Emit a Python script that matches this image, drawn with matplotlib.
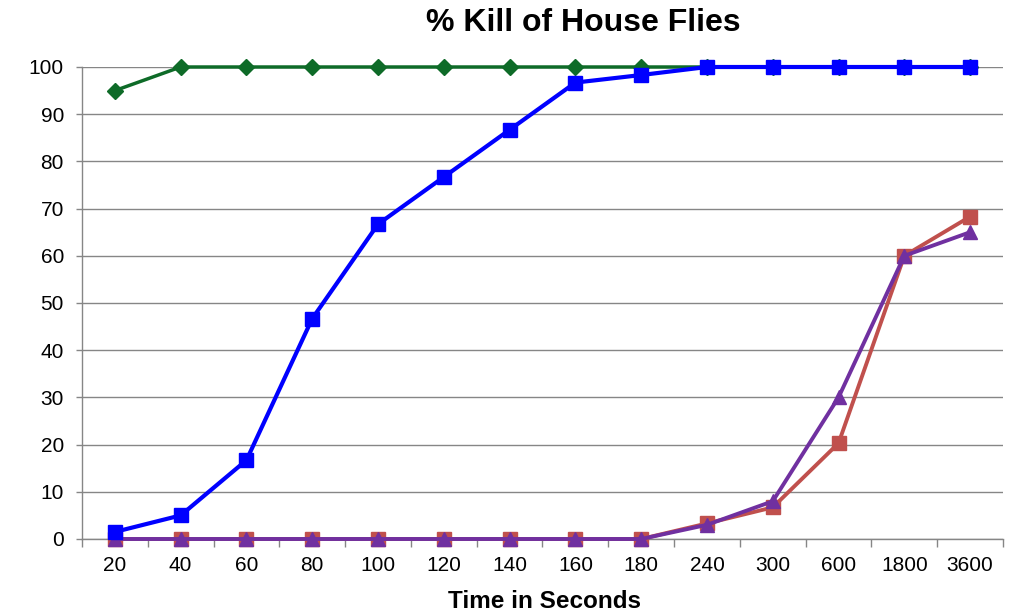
import matplotlib
matplotlib.use("Agg")
import matplotlib.pyplot as plt
from matplotlib.ticker import FixedLocator

plt.rcParams["font.family"] = ["Liberation Sans", "DejaVu Sans"]

# Daten
times = ["20", "40", "60", "80", "100", "120", "140", "160", "180",
         "240", "300", "600", "1800", "3600"]
green = [95, 100, 100, 100, 100, 100, 100, 100, 100, 100, 100, 100, 100, 100]
blue = [1.5, 5, 16.7, 46.7, 66.7, 76.7, 86.7, 96.7, 98.3, 100, 100, 100, 100, 100]
red = [0, 0, 0, 0, 0, 0, 0, 0, 0, 3.3, 6.7, 20.3, 60, 68.3]
purple = [0, 0, 0, 0, 0, 0, 0, 0, 0, 3, 8, 30, 60, 65]

x = list(range(len(times)))

fig = plt.figure(figsize=(10.11, 6.15), dpi=100)
ax = fig.add_axes([82 / 1011, 76 / 615, 921 / 1011, 472 / 615])

ax.plot(x, red, color="#C0504D", linewidth=2.8, marker="s", markersize=10,
        zorder=3, clip_on=False)
ax.plot(x, purple, color="#7030A0", linewidth=2.8, marker="^", markersize=10,
        zorder=4, clip_on=False)
ax.plot(x, green, color="#0E6B28", linewidth=2.5, marker="D", markersize=8,
        zorder=5, clip_on=False)
ax.plot(x, blue, color="#0000FF", linewidth=3, marker="s", markersize=10.5,
        zorder=6, clip_on=False)

ax.set_xlim(-0.5, len(times) - 0.5)
ax.set_ylim(0, 100)
ax.set_yticks(range(0, 101, 10))
ax.set_xticks(x)
ax.set_xticklabels(times)
ax.xaxis.set_minor_locator(FixedLocator([i - 0.5 for i in range(len(times) + 1)]))

ax.tick_params(axis="x", which="major", length=0, pad=12, labelsize=15)
ax.tick_params(axis="x", which="minor", length=6, color="#868686", width=1)
ax.tick_params(axis="y", length=4, color="#868686", width=1, pad=9, labelsize=15)

ax.grid(True, axis="y", color="#868686", linewidth=1)
ax.set_axisbelow(True)
for s in ["top", "right"]:
    ax.spines[s].set_visible(False)
for s in ["left", "bottom"]:
    ax.spines[s].set_color("#868686")
    ax.spines[s].set_linewidth(1)

fig.text(583 / 1011, 1 - 23 / 615, "% Kill of House Flies", ha="center", va="center",
         fontsize=23, fontweight="bold")
fig.text(544 / 1011, 1 - 602 / 615, "Time in Seconds", ha="center", va="center",
         fontsize=17.5, fontweight="bold")

fig.savefig("out.png", dpi=100)
